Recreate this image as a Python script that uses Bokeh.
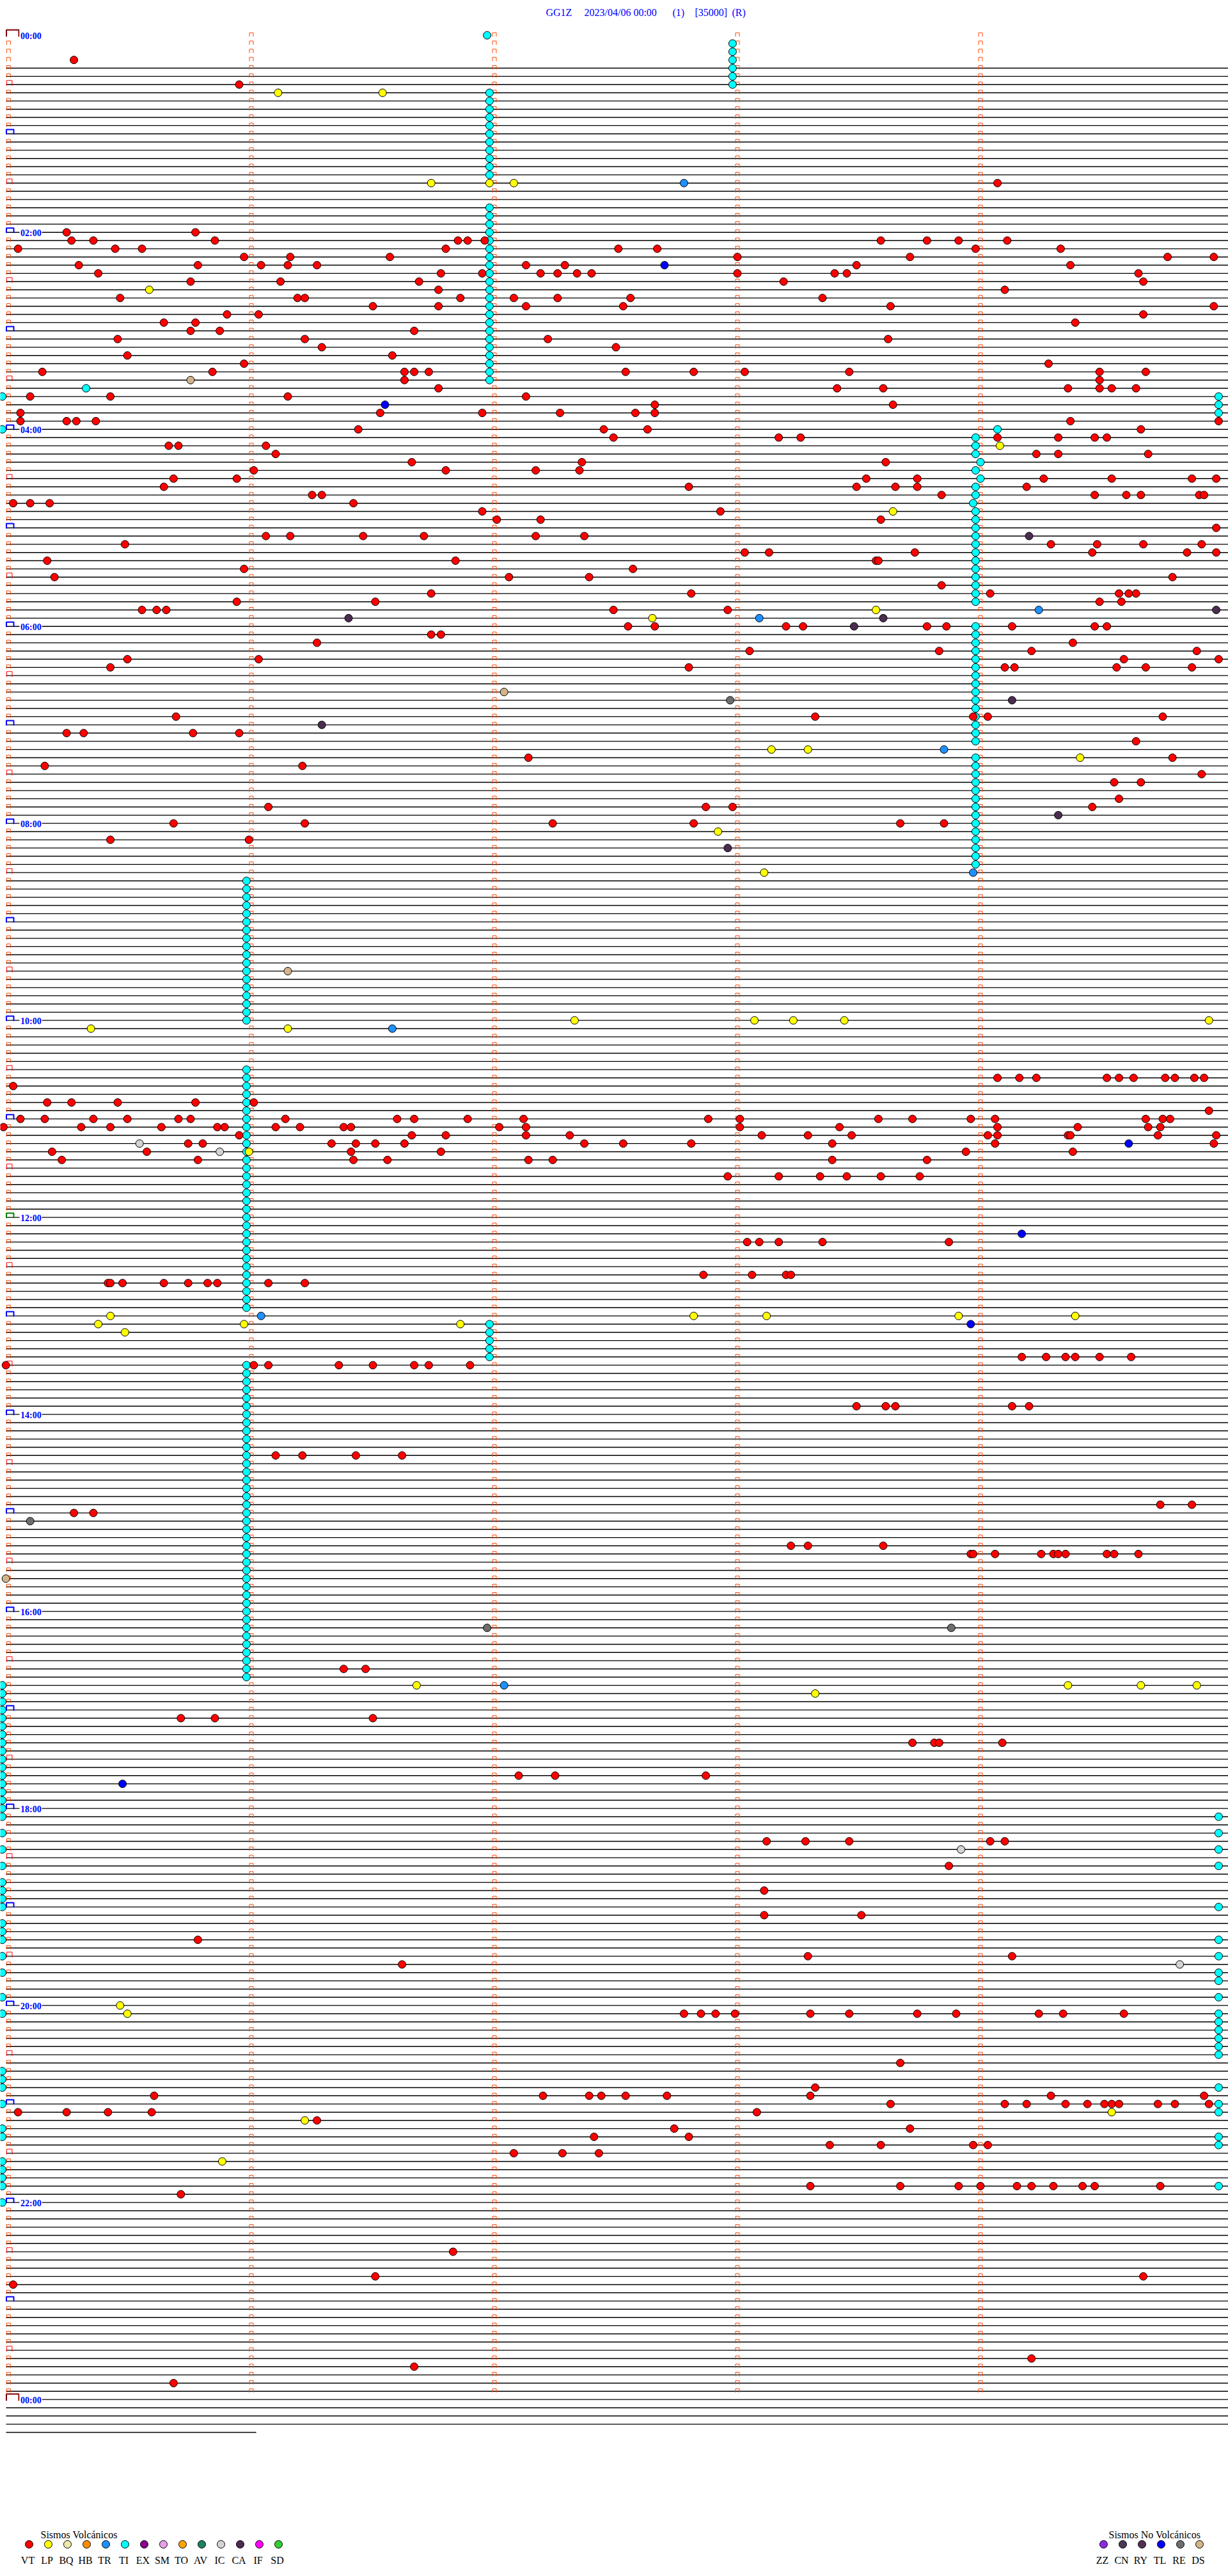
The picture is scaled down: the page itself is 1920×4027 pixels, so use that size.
import numpy as np
from bokeh.plotting import figure
from bokeh.models import Range1d
from bokeh.embed import file_html
from bokeh.resources import INLINE
from bokeh.core.properties import value

# ---------------- data ----------------
TITLE_PARTS = ["GG1Z", "2023/04/06 00:00", "(1)", "[35000]", "(R)"]
N_ROWS = 288            # 5-minute lines, 00:00 -> 24:00
ROW_MINUTES = 5
FIRST_TRACE_ROW = 4
EXTRA_ROWS = 4          # lines drawn after 24:00
LAST_PARTIAL_MIN = 1.02

VOLC_TYPES = ["VT", "LP", "BQ", "HB", "TR", "TI", "EX", "SM", "TO", "AV", "IC", "CA", "IF", "SD"]
VOLC_COLORS = ["#FF0000", "#FFFF00", "#EEE8AA", "#FF8C00", "#1E90FF", "#00FFFF", "#8B008B",
               "#E6A0E6", "#FFA500", "#1E8064", "#D3D3D3", "#4B2D50", "#FF00FF", "#32CD32"]
NONVOLC_TYPES = ["ZZ", "CN", "RY", "TL", "RE", "DS"]
NONVOLC_COLORS = ["#8A2BE2", "#4A3A55", "#553055", "#0000FF", "#6E6E6E", "#D2B48C"]

# events: row (5-minute line index) -> minute offsets inside the line
VT = {
    3: [0.27], 6: [0.95], 18: [4.07],
    24: [0.24, 0.77],
    25: [0.26, 0.35, 0.85, 1.85, 1.89, 1.96, 3.59, 3.78, 3.91, 4.11],
    26: [0.04, 0.44, 0.55, 1.80, 2.51, 2.67, 3.98, 4.33],
    27: [0.97, 1.16, 1.57, 3.00, 3.71, 4.77, 4.96],
    28: [0.29, 0.78, 1.04, 1.15, 1.27, 2.13, 2.29, 3.49, 4.37],
    29: [0.37, 1.78, 1.95, 2.19, 2.26, 2.34, 2.40, 3.00, 3.40, 3.45, 4.65],
    30: [0.75, 1.12, 1.69, 3.19, 4.67],
    31: [1.77, 4.10],
    32: [0.46, 1.19, 1.22, 1.86, 2.08, 2.26, 2.56, 3.35],
    33: [1.50, 1.77, 2.13, 2.53, 3.63, 4.96],
    34: [0.90, 1.03, 4.67],
    35: [0.64, 0.77, 4.39],
    36: [0.75, 0.87, 1.67],
    37: [0.45, 1.22, 2.22, 3.62],
    38: [1.29, 2.50],
    39: [0.49, 1.58],
    40: [0.97, 4.28],
    41: [0.14, 0.84, 1.63, 1.67, 1.73, 2.54, 2.82, 3.03, 3.46, 4.49, 4.68],
    42: [1.63, 4.49],
    43: [1.77, 3.41, 3.60, 4.36, 4.49, 4.54, 4.64],
    44: [0.09, 0.42, 1.15, 2.13],
    45: [2.66, 3.64],
    46: [0.05, 1.53, 1.95, 2.27, 2.58, 2.66],
    47: [0.05, 0.24, 0.28, 0.36, 4.37, 4.98],
    48: [1.44, 2.45, 2.63, 4.66],
    49: [2.49, 3.17, 3.26, 4.07, 4.32, 4.47, 4.52],
    50: [0.66, 0.70, 1.06],
    51: [1.10, 4.23, 4.32, 4.69],
    52: [1.66, 2.36, 3.61],
    53: [1.01, 1.80, 2.17, 2.35],
    54: [0.68, 0.94, 3.53, 3.74, 4.26, 4.54, 4.87, 4.97],
    55: [0.64, 2.80, 3.49, 3.65, 3.74, 4.19],
    56: [1.25, 1.29, 3.84, 4.47, 4.60, 4.66, 4.90, 4.92],
    57: [0.02, 0.09, 0.17, 1.42],
    58: [1.95, 2.93],
    59: [2.01, 2.19, 3.59],
    60: [4.97],
    61: [1.06, 1.16, 1.46, 1.71, 2.17, 2.37],
    62: [0.48, 4.29, 4.48, 4.67, 4.91],
    63: [3.03, 3.13, 3.73, 4.46, 4.85, 4.97],
    64: [0.16, 1.84, 3.57, 3.58],
    65: [0.97, 2.57],
    66: [0.19, 2.06, 2.39, 4.79],
    67: [3.84],
    68: [1.74, 2.81, 4.04, 4.57, 4.61, 4.64],
    69: [0.94, 1.51, 4.49, 4.58],
    70: [0.55, 0.61, 0.65, 2.49, 2.96],
    72: [2.55, 2.66, 3.20, 3.27, 3.78, 3.86, 4.13, 4.47, 4.52],
    73: [1.74, 1.78],
    74: [1.27, 4.38],
    75: [3.05, 3.83, 4.21, 4.89],
    76: [0.49, 1.03, 4.59, 4.98],
    77: [0.42, 2.80, 4.10, 4.14, 4.56, 4.68, 4.87],
    83: [0.69, 3.32, 3.97, 4.03, 4.75],
    85: [0.24, 0.31, 0.76, 0.95],
    86: [4.64],
    88: [2.14, 4.79],
    89: [0.15, 1.21],
    90: [4.91],
    91: [4.55, 4.66],
    93: [4.57],
    94: [1.07, 2.87, 2.98, 4.46],
    96: [0.68, 1.22, 2.24, 2.82, 3.67, 3.85],
    98: [0.42, 0.99],
    127: [4.07, 4.16, 4.23, 4.52, 4.57, 4.63, 4.76, 4.80, 4.88, 4.92],
    128: [0.02],
    130: [0.16, 0.26, 0.45, 0.77, 1.01],
    131: [4.94],
    132: [0.05, 0.15, 0.35, 0.49, 0.70, 0.75, 1.14, 1.60, 1.67, 1.89, 2.12, 2.88, 3.01, 3.58,
          3.72, 3.96, 4.06, 4.68, 4.75, 4.78],
    133: [-0.02, 0.30, 0.42, 0.63, 0.86, 0.89, 1.10, 1.20, 1.38, 1.41, 2.02, 2.13, 3.01, 3.42,
          4.07, 4.40, 4.69, 4.74],
    134: [0.95, 1.66, 1.80, 2.13, 2.31, 3.10, 3.29, 3.47, 4.03, 4.07, 4.36, 4.37, 4.73, 4.97],
    135: [0.74, 0.80, 1.33, 1.43, 1.51, 1.63, 2.37, 2.53, 2.81, 3.39, 4.06, 4.96],
    136: [0.18, 0.57, 1.41, 1.78, 3.94, 4.38],
    137: [0.22, 0.78, 1.42, 1.56, 2.14, 2.24, 3.39, 3.78],
    139: [2.96, 3.17, 3.34, 3.45, 3.59, 3.75],
    147: [3.04, 3.09, 3.17, 3.35, 3.87],
    151: [2.86, 3.06, 3.20, 3.22],
    152: [0.41, 0.42, 0.47, 0.64, 0.74, 0.82, 0.86, 1.07, 1.22],
    161: [4.17, 4.27, 4.35, 4.39, 4.49, 4.62],
    162: [-0.01, 1.01, 1.07, 1.36, 1.50, 1.67, 1.73, 1.90],
    167: [3.49, 3.61, 3.65, 4.13, 4.20],
    173: [1.10, 1.21, 1.43, 1.62],
    179: [4.74, 4.87],
    180: [0.27, 0.35],
    184: [3.22, 3.29, 3.60],
    185: [3.96, 3.97, 4.06, 4.25, 4.30, 4.32, 4.35, 4.52, 4.55, 4.65],
    199: [1.38, 1.47],
    205: [0.71, 0.85, 1.50],
    208: [3.72, 3.81, 3.83, 4.09],
    212: [2.10, 2.25, 2.87],
    220: [3.12, 3.28, 3.46, 4.04, 4.10],
    223: [3.87],
    226: [3.11],
    229: [3.11, 3.51],
    232: [0.78],
    234: [3.29, 4.13],
    235: [1.62],
    241: [2.78, 2.85, 2.91, 2.99, 3.30, 3.46, 3.74, 3.90, 4.24, 4.34, 4.59],
    247: [3.67],
    250: [3.32],
    251: [0.60, 2.20, 2.39, 2.44, 2.54, 2.71, 3.30, 4.29, 4.92],
    252: [3.63, 4.10, 4.19, 4.35, 4.44, 4.51, 4.54, 4.57, 4.73, 4.80, 4.94],
    253: [0.04, 0.24, 0.41, 0.59, 3.08],
    254: [1.27],
    255: [2.74, 3.71],
    256: [2.41, 2.80],
    257: [3.38, 3.59, 3.97, 4.03],
    258: [2.08, 2.28, 2.43],
    262: [3.30, 3.67, 3.91, 4.00, 4.15, 4.21, 4.30, 4.42, 4.47, 4.74],
    263: [0.71],
    270: [1.83],
    273: [1.51, 4.67],
    274: [0.02],
    283: [4.21],
    284: [1.67],
    286: [0.68],
}

TI = {
    0: [1.97],
    1: [2.98], 2: [2.98], 3: [2.98], 4: [2.98], 5: [2.98], 6: [2.98],
    7: [1.98], 8: [1.98], 9: [1.98], 10: [1.98], 11: [1.98], 12: [1.98], 13: [1.98],
    14: [1.98], 15: [1.98], 16: [1.98], 17: [1.98],
    21: [1.98], 22: [1.98], 23: [1.98], 24: [1.98], 25: [1.98], 26: [1.98], 27: [1.98],
    28: [1.98], 29: [1.98], 30: [1.98], 31: [1.98], 32: [1.98], 33: [1.98], 34: [1.98],
    35: [1.98], 36: [1.98], 37: [1.98], 38: [1.98], 39: [1.98], 40: [1.98], 41: [1.98],
    42: [1.98],
    43: [0.32], 44: [-0.025, 4.98], 45: [4.98], 46: [4.98], 48: [-0.025, 4.07],
    49: [3.98], 50: [3.98], 51: [3.98], 52: [4.00], 53: [3.98], 54: [4.00], 55: [3.98],
    56: [3.98], 57: [3.97], 58: [3.98], 59: [3.98], 60: [3.98], 61: [3.98], 62: [3.98],
    63: [3.98], 64: [3.98], 65: [3.98], 66: [3.98], 67: [3.98], 68: [3.98], 69: [3.98],
    72: [3.98], 73: [3.98], 74: [3.98], 75: [3.98], 76: [3.98], 77: [3.98], 78: [3.98],
    79: [3.98], 80: [3.98], 81: [3.98], 82: [3.98], 83: [3.98], 84: [3.98], 85: [3.98],
    86: [3.98], 88: [3.98], 89: [3.98], 90: [3.98], 91: [3.98], 92: [3.98], 93: [3.98],
    94: [3.98], 95: [3.98], 96: [3.98], 97: [3.98], 98: [3.98], 99: [3.98], 100: [3.98],
    101: [3.98],
    103: [0.98], 104: [0.98], 105: [0.98], 106: [0.98], 107: [0.98], 108: [0.98],
    109: [0.98], 110: [0.98], 111: [0.98], 112: [0.98], 113: [0.98], 114: [0.98],
    115: [0.98], 116: [0.98], 117: [0.98], 118: [0.98], 119: [0.98], 120: [0.98],
    126: [0.98], 127: [0.98], 128: [0.98], 129: [0.98], 130: [0.98], 131: [0.98],
    132: [0.98], 133: [0.98], 134: [0.98], 135: [0.98], 136: [0.98], 137: [0.98],
    138: [0.98], 139: [0.98], 140: [0.98], 141: [0.98], 142: [0.98], 143: [0.98],
    144: [0.98], 145: [0.98], 146: [0.98], 147: [0.98], 148: [0.98], 149: [0.98],
    150: [0.98], 151: [0.98], 152: [0.98], 153: [0.98], 154: [0.98], 155: [0.98],
    157: [1.98], 158: [1.98], 159: [1.98], 160: [1.98], 161: [1.98],
    162: [0.98], 163: [0.98], 164: [0.98], 165: [0.98], 166: [0.98], 167: [0.98],
    168: [0.98], 169: [0.98], 170: [0.98], 171: [0.98], 172: [0.98], 173: [0.98],
    174: [0.98], 175: [0.98], 176: [0.98], 177: [0.98], 178: [0.98], 179: [0.98],
    180: [0.98], 181: [0.98], 182: [0.98], 183: [0.98], 184: [0.98], 185: [0.98],
    186: [0.98], 187: [0.98], 188: [0.98], 189: [0.98], 190: [0.98], 191: [0.98],
    192: [0.98], 193: [0.98], 194: [0.98], 195: [0.98], 196: [0.98], 197: [0.98],
    198: [0.98], 199: [0.98], 200: [0.98],
    201: [-0.025], 202: [-0.025], 203: [-0.025], 204: [-0.025], 205: [-0.025],
    206: [-0.025], 207: [-0.025], 208: [-0.025], 209: [-0.025], 210: [-0.025],
    211: [-0.025], 212: [-0.025], 213: [-0.025], 214: [-0.025], 215: [-0.025],
    216: [-0.025], 217: [-0.025, 4.98],
    219: [-0.025, 4.98], 221: [-0.025, 4.98], 223: [-0.025, 4.98], 225: [-0.025],
    226: [-0.025], 227: [-0.025], 228: [-0.025, 4.98], 230: [-0.025], 231: [-0.025],
    232: [-0.025, 4.98], 234: [-0.025, 4.98], 236: [-0.025, 4.98], 237: [4.98],
    239: [-0.025, 4.98], 241: [-0.025, 4.98], 242: [4.98], 243: [4.98], 244: [4.98],
    245: [4.98], 246: [4.98], 248: [-0.025], 249: [-0.025], 250: [-0.025, 4.98],
    252: [-0.025, 4.98], 253: [4.98], 255: [-0.025], 256: [-0.025, 4.98], 257: [4.98],
    259: [-0.025], 260: [-0.025], 261: [-0.025], 262: [-0.025, 4.98], 264: [-0.025],
}

LP = {
    7: [1.11, 1.54], 18: [1.74, 1.98, 2.08], 31: [0.58], 50: [4.08], 58: [3.64],
    70: [3.57], 71: [2.65], 87: [3.14, 3.29], 88: [4.41], 97: [2.92], 102: [3.11],
    120: [2.33, 3.07, 3.23, 3.44, 4.94], 121: [0.34, 1.15], 136: [0.99],
    156: [0.42, 2.82, 3.12, 3.91, 4.39], 157: [0.37, 0.97, 1.86], 158: [0.48],
    201: [1.68, 4.36, 4.66, 4.89], 202: [3.32], 240: [0.46], 241: [0.49],
    253: [4.54], 254: [1.22], 259: [0.88],
}
TR = {18: [2.78], 70: [4.24], 71: [3.09], 87: [3.85], 102: [3.97], 121: [1.58],
      156: [1.04], 201: [2.04]}
IC = {135: [0.54], 136: [0.87], 221: [3.92], 235: [4.82]}
CA = {61: [4.20], 70: [4.97], 71: [1.40, 3.60], 72: [3.48], 81: [4.13], 84: [1.29],
      95: [4.32], 99: [2.96]}
TL = {28: [2.70], 45: [1.55], 135: [4.61], 146: [4.17], 157: [3.96], 213: [0.47]}
RE = {81: [2.97], 181: [0.09], 194: [1.97, 3.88]}
DS = {42: [0.75], 80: [2.04], 114: [1.15], 188: [-0.01]}

EVENTS = [("TI", TI), ("VT", VT), ("LP", LP), ("TR", TR), ("IC", IC), ("CA", CA),
          ("TL", TL), ("RE", RE), ("DS", DS)]

# ---------------- layout (page pixels) ----------------
W, H = 1920, 4027
PAGE_OFF = 0
X0, MIN_PX = 12.5, 380.0       # page x of minute 0, pixels per minute
Y0, ROW_PX = 54.7, 12.833      # page y of row 0, pixels per row


def X(page_x):
    return (page_x - X0) / MIN_PX


def Y(page_y):
    return (page_y - Y0) / ROW_PX


def dx(px):
    return px / MIN_PX


def dy(px):
    return px / ROW_PX


p = figure(width=W, height=H, output_backend="svg", toolbar_location=None,
           x_range=Range1d(X(PAGE_OFF), X(PAGE_OFF + W)),
           y_range=Range1d(Y(PAGE_OFF + H), Y(PAGE_OFF)),
           x_axis_location=None, y_axis_location=None, min_border=0,
           outline_line_color=None, background_fill_color="white",
           border_fill_color="white")
p.grid.visible = False

# trace lines
x0s, x1s, ys = [], [], []
for r in range(FIRST_TRACE_ROW, N_ROWS + EXTRA_ROWS + 1):
    start = X(65) if r == N_ROWS else X(9)
    end = LAST_PARTIAL_MIN if r == N_ROWS + EXTRA_ROWS else X(1925)
    x0s.append(start); x1s.append(end); ys.append(r)
p.segment(x0=x0s, y0=ys, x1=x1s, y1=ys, line_color="black", line_width=1.4)

# minute ticks (small open boxes)
tx, ty = [], []
for r in range(N_ROWS):
    for c in range(ROW_MINUTES):
        if c == 0 and r % 6 == 0:
            continue
        xc = c if c > 0 else X(12.8)
        tx += [xc - dx(3), xc - dx(3), xc + dx(3), xc + dx(3), np.nan]
        ty += [r + dy(2), r - dy(4), r - dy(4), r + dy(2), np.nan]
p.line(tx, ty, line_color="#FF4500", line_width=1)


def box(rows, x_left, x_right, up, down, color, width):
    bx, by = [], []
    for r in rows:
        bx += [X(x_left), X(x_left), X(x_right), X(x_right), np.nan]
        by += [r + dy(down), r - dy(up), r - dy(up), r + dy(down), np.nan]
    p.line(bx, by, line_color=color, line_width=width)


hour_rows = [r for r in range(12, N_ROWS, 12) if r != 144]
half_rows = [r for r in range(6, N_ROWS, 12)]
box(half_rows, 10, 18.5, 6.4, 2, "#FF0000", 1)
box(hour_rows, 9.5, 21, 6.6, 1, "#0000FF", 2)
box([144], 9.5, 21, 6.6, 1, "#008000", 2)
box([0, N_ROWS], 9.5, 29, 8.5, 2, "#800000", 2)

# hour labels
lab_rows = list(range(0, N_ROWS + 1, 24))
lab_txt = ["%02d:00" % ((r // 12) % 24) for r in lab_rows]
p.quad(left=[X(30)] * len(lab_rows), right=[X(65)] * len(lab_rows),
       top=[r - dy(11) for r in lab_rows], bottom=[r + dy(3) for r in lab_rows],
       fill_color="white", line_color=None)
p.text(x=[X(31.5)] * len(lab_rows), y=[r + dy(1) for r in lab_rows], text=lab_txt,
       text_font=value("Liberation Serif"), text_font_style="bold",
       text_font_size="14px", text_color="#0000FF", text_baseline="alphabetic",
       text_align="left")

# event markers
all_colors = dict(zip(VOLC_TYPES + NONVOLC_TYPES, VOLC_COLORS + NONVOLC_COLORS))
for name, ev in EVENTS:
    ex, ey = [], []
    for r, offs in ev.items():
        for m in offs:
            ex.append(m); ey.append(r)
    p.scatter(ex, ey, size=12, marker="circle", fill_color=all_colors[name],
              line_color="black", line_width=1)

# title
title_left = [853, 913, 1051, 1086, 1144]
p.text(x=[X(v) for v in title_left], y=[Y(18.5)] * len(TITLE_PARTS), text=TITLE_PARTS,
       text_font=value("Liberation Serif"), text_font_size="16px", text_color="#0000FF",
       text_baseline="alphabetic", text_align="left")

# legends
leg_y = Y(3977)
vx = [X(45 + 30 * i) for i in range(len(VOLC_TYPES))]
p.scatter(vx, [leg_y] * len(vx), size=12, marker="circle", fill_color=VOLC_COLORS,
          line_color="black", line_width=1)
p.text(x=[v - dx(2) for v in vx], y=[Y(4002)] * len(vx), text=VOLC_TYPES,
       text_font=value("Liberation Serif"), text_font_size="16px", text_color="black",
       text_baseline="alphabetic", text_align="center")
nx = [X(1725 + 30 * i) for i in range(len(NONVOLC_TYPES))]
p.scatter(nx, [leg_y] * len(nx), size=12, marker="circle", fill_color=NONVOLC_COLORS,
          line_color="black", line_width=1)
p.text(x=[v - dx(2) for v in nx], y=[Y(4002)] * len(nx), text=NONVOLC_TYPES,
       text_font=value("Liberation Serif"), text_font_size="16px", text_color="black",
       text_baseline="alphabetic", text_align="center")
p.text(x=[X(63), X(1733)], y=[Y(3961.5)] * 2, text=["Sismos Volcánicos", "Sismos No Volcánicos"],
       text_font=value("Liberation Serif"), text_font_size="16px",
       text_color="black", text_baseline="alphabetic", text_align="left")

open("out.html", "w").write(file_html(p, INLINE))
